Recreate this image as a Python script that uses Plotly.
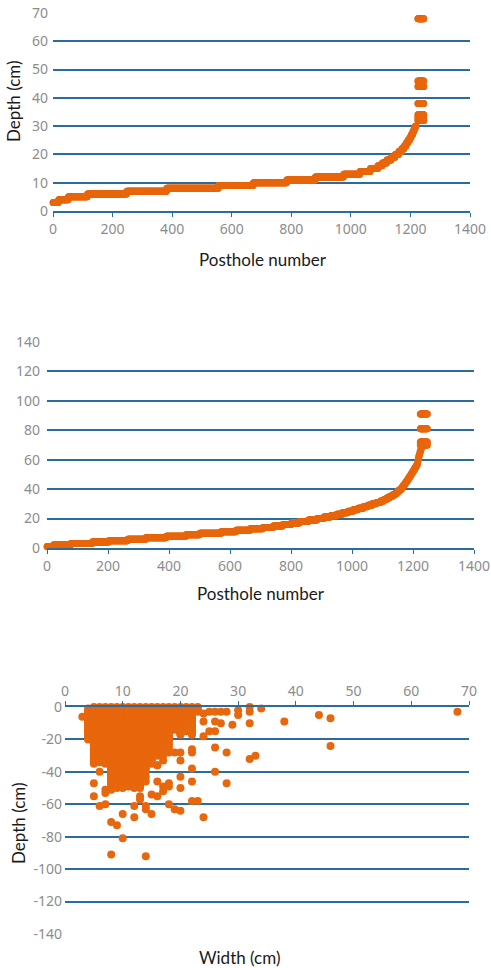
import plotly.graph_objects as go

# ---------------------------------------------------------------
# Sorted posthole depths (first series): depth in cm and the last
# posthole number that has that depth.
depth_a_values = [3, 4, 5, 6, 7, 8, 9, 10, 11, 12, 13, 14, 15, 16, 17, 18,
                  19, 20, 21, 22, 23, 24, 25, 26, 27, 28, 29, 30]
depth_a_last = [18, 51, 115, 247, 381, 555, 672, 784, 880, 975, 1030, 1065,
                1090, 1105, 1120, 1135, 1148, 1160, 1170, 1178, 1185, 1191,
                1197, 1202, 1207, 1211, 1215, 1219]
# deepest holes, spread over the last posthole numbers
depth_a_top_values = [32, 33, 34, 38, 44, 46, 68]
depth_a_top_range = (1225, 1245)

# Sorted posthole depths (second series)
depth_b_values = list(range(1, 69))
depth_b_last = [20, 77, 147, 202, 264, 323, 390, 455, 500, 570, 619, 665,
                707, 741, 772, 800, 827, 856, 885, 907, 929, 949, 967, 986,
                1003, 1019, 1036, 1051, 1065, 1079, 1093, 1104, 1113, 1122,
                1131, 1140, 1146, 1151, 1157, 1162, 1165, 1169, 1173, 1176,
                1180, 1183, 1186, 1189, 1192, 1195, 1198, 1201, 1204, 1207,
                1210, 1213, 1214, 1215, 1216, 1217, 1218, 1219, 1221, 1222,
                1223, 1225, 1226, 1228]
depth_b_top_values = [70, 72, 81, 91]
depth_b_top_range = (1224, 1247)

# Width vs depth: densely packed columns (width, shallowest, deepest)
blob_width = [4, 5, 6, 7, 8, 9, 10, 11, 12, 13, 14, 15, 16, 17, 18, 19, 20, 21, 22, 23]
blob_top = [1, 0, 0, 0, 0, 0, 0, 0, 0, 0, 0, 0, 0, 0, 0, 0, 0, 0, 0, 0]
blob_bottom = [20, 35, 34, 35, 51, 50, 50, 49, 50, 50, 38, 33, 30, 26, 21, 14, 17, 12, 17, 3]
# individual holes outside the dense cluster
scatter_width = [3, 5, 5, 6, 6, 7, 7, 7, 8, 9, 10, 10, 8, 14, 12, 12, 13, 13, 14,
                 14, 14, 14, 14, 15, 15, 16, 16, 16, 17, 17, 17, 17, 18, 18, 18,
                 18, 18, 18, 19, 20, 20, 20, 20, 20, 19, 22, 22, 22, 23, 22, 22,
                 24, 24, 26, 26, 28, 28, 32, 33, 32, 29, 27, 26, 25, 26, 24, 24,
                 25, 26, 27, 28, 30, 30, 32, 32, 34, 38, 44, 46, 46, 68, 23, 21,
                 20, 22, 21, 20, 17, 17, 18, 18, 19, 20, 21, 22, 22, 15, 16, 15]
scatter_depth = [6, 47, 55, 40, 61, 51, 53, 60, 71, 73, 66, 81, 91, 92, 61, 68, 55,
                 57, 61, 63, 40, 43, 46, 54, 66, 55, 46, 36, 49, 52, 30, 33, 47,
                 49, 60, 23, 25, 28, 63, 64, 50, 43, 33, 28, 28, 38, 46, 58, 58,
                 28, 26, 68, 18, 25, 40, 28, 47, 32, 30, 10, 11, 10, 9, 15, 15,
                 9, 4, 3, 3, 3, 3, 2, 5, 0, 3, 1, 9, 5, 7, 24, 3, 1, 1, 17, 17,
                 15, 8, 22, 25, 16, 20, 13, 15, 10, 13, 16, 33, 36, 35]

x_ticks_a = [0, 200, 400, 600, 800, 1000, 1200, 1400]
y_ticks_a = [0, 10, 20, 30, 40, 50, 60, 70]
y_ticks_b = [0, 20, 40, 60, 80, 100, 120, 140]
x_ticks_c = [0, 10, 20, 30, 40, 50, 60, 70]
y_ticks_c = [0, -20, -40, -60, -80, -100, -120, -140]
y_ticks_c_text = ["0", "-20", "-40", "-60", "-80", "-100", "-120", "-140"]


def expand_steps(values, lasts, top_values, top_range):
    xs, ys = [], []
    first = 0
    for v, last in zip(values, lasts):
        for n in range(first, last + 1):
            xs.append(n)
            ys.append(v)
        first = last + 1
    for v in top_values:
        for n in range(top_range[0], top_range[1] + 1):
            xs.append(n)
            ys.append(v)
    return xs, ys


xa, ya = expand_steps(depth_a_values, depth_a_last, depth_a_top_values, depth_a_top_range)
xb, yb = expand_steps(depth_b_values, depth_b_last, depth_b_top_values, depth_b_top_range)

wc, dc = [], []
for w, top, bottom in zip(blob_width, blob_top, blob_bottom):
    for d in range(top, bottom + 1):
        wc.append(w)
        dc.append(-d)
for w, d in zip(scatter_width, scatter_depth):
    wc.append(w)
    dc.append(-d)

W, H = 491, 968
ORANGE = "#e8660c"
GRID = "#2a6d9c"
TICKGRAY = "#8c8c8c"
FONT = "Lato"
TICKFONT = "Noto Sans"


def px_x(p):
    return p / W


def px_y(p):
    return 1 - p / H


fig = go.Figure()
fig.add_trace(go.Scatter(x=xa, y=ya, mode="markers", xaxis="x", yaxis="y",
                         marker=dict(color=ORANGE, size=7, line=dict(width=0)),
                         cliponaxis=False, showlegend=False, hoverinfo="skip"))
fig.add_trace(go.Scatter(x=xb, y=yb, mode="markers", xaxis="x2", yaxis="y2",
                         marker=dict(color=ORANGE, size=7, line=dict(width=0)),
                         cliponaxis=False, showlegend=False, hoverinfo="skip"))
fig.add_trace(go.Scatter(x=wc, y=dc, mode="markers", xaxis="x3", yaxis="y3",
                         marker=dict(color=ORANGE, size=8, line=dict(width=0)),
                         cliponaxis=False, showlegend=False, hoverinfo="skip"))

tickfont = dict(family=TICKFONT, size=14, color=TICKGRAY)
xcommon = dict(showgrid=False, zeroline=False, showline=True, linecolor=GRID,
               linewidth=1.6, ticks="outside", ticklen=4, tickwidth=1.4,
               tickcolor=GRID, tickfont=tickfont, automargin=False)
ycommon = dict(showgrid=True, gridcolor=GRID, gridwidth=1.6, zeroline=False,
               showline=False, ticks="", tickfont=tickfont, automargin=False)

fig.update_layout(
    width=W, height=H,
    margin=dict(l=0, r=0, t=0, b=0, autoexpand=False),
    paper_bgcolor="white", plot_bgcolor="white",
    xaxis=dict(xcommon, domain=[px_x(53), px_x(470)], range=[0, 1400],
               tickvals=x_ticks_a, anchor="y"),
    yaxis=dict(ycommon, domain=[px_y(211), px_y(13)], range=[0, 70],
               tickvals=y_ticks_a, anchor="x", ticklabelstandoff=4),
    xaxis2=dict(xcommon, domain=[px_x(47), px_x(474)], range=[0, 1400],
                tickvals=x_ticks_a, anchor="y2"),
    yaxis2=dict(ycommon, domain=[px_y(548), px_y(342)], range=[0, 140],
                tickvals=y_ticks_b, anchor="x2", ticklabelstandoff=6),
    xaxis3=dict(xcommon, domain=[px_x(65), px_x(469)], range=[0, 70],
                tickvals=x_ticks_c, anchor="y3", side="top"),
    yaxis3=dict(ycommon, domain=[px_y(934), px_y(707)], range=[-140, 0],
                tickvals=y_ticks_c, ticktext=y_ticks_c_text, anchor="x3",
                ticklabelstandoff=2),
)

titlefont = dict(family=FONT, size=17, color="#1a1a1a")
titles = [
    ("Depth (cm)", 14, 101, -90),
    ("Posthole number", 263, 259, 0),
    ("Posthole number", 261, 593, 0),
    ("Depth (cm)", 18, 823, -90),
    ("Width (cm)", 239, 957, 0),
]
for text, x, y, angle in titles:
    fig.add_annotation(text=text, x=px_x(x), y=px_y(y), xref="paper", yref="paper",
                       xanchor="center", yanchor="middle", showarrow=False,
                       textangle=angle, font=titlefont)

fig.write_html("out.html")
